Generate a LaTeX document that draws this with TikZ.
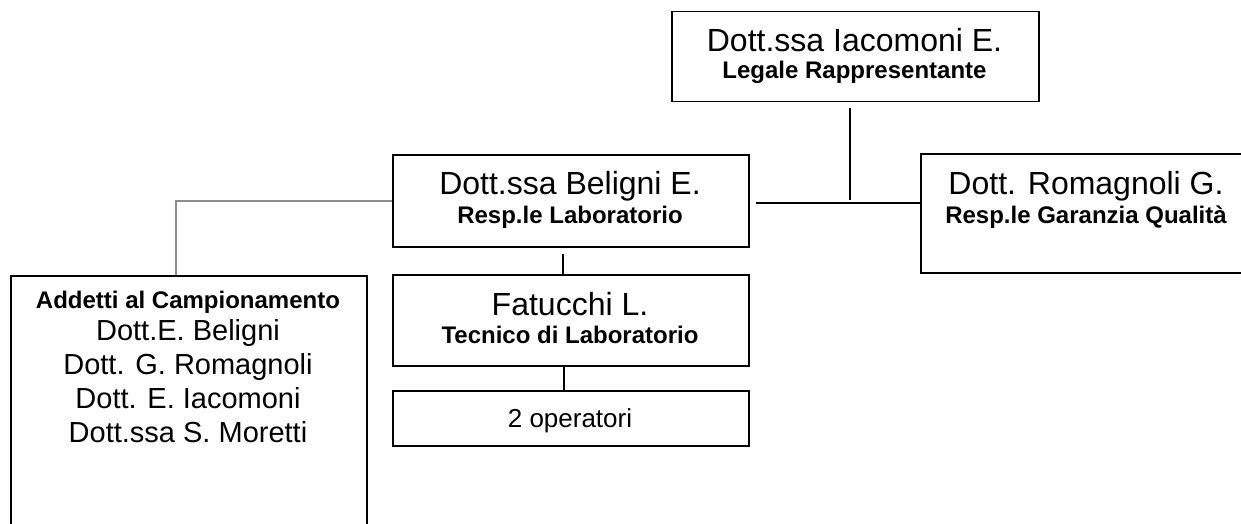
\documentclass[tikz,border=0pt]{standalone}
\usepackage{fontspec}
\setmainfont{Liberation Sans}
\begin{document}
\begin{tikzpicture}[x=1pt,y=-1pt,
  box/.style={draw=black,line width=1.5pt,inner sep=0pt,anchor=north west},
  conn/.style={line width=1.5pt,draw=black},
  grayconn/.style={line width=1.5pt,draw=black!45},
  big/.style={anchor=base,inner sep=0pt,font=\fontsize{32}{35}\selectfont},
  listtxt/.style={anchor=base,inner sep=0pt,font=\fontsize{29}{34}\selectfont},
  lbl/.style={anchor=base,inner sep=0pt,font=\fontsize{24}{28}\selectfont\bfseries}]
\useasboundingbox (0,0) rectangle (1241,524);
\clip (0,0) rectangle (1241,524);
% boxes
\node[box,minimum width=367pt,minimum height=90pt] (top) at (671,11) {};
\node[box,minimum width=356pt,minimum height=92pt] (beligni) at (392,154) {};
\node[box,minimum width=332pt,minimum height=119pt] (romagnoli) at (920,153) {};
\node[box,minimum width=356pt,minimum height=91pt] (fatucchi) at (392,274) {};
\node[box,minimum width=356pt,minimum height=55pt] (operatori) at (392,390) {};
\node[box,minimum width=356pt,minimum height=300pt] (addetti) at (10,275) {};
% texts
\node[big] (topname) at (854.5,52) {Dott.ssa Iacomoni E.};
\node[lbl] (toprole) at (854.5,79) {Legale Rappresentante};
\node[big] (belname) at (570,194) {Dott.ssa Beligni E.};
\node[lbl] (belrole) at (570,223) {Resp.le Laboratorio};
\node[big] (romname) at (1086,194) {Dott. Romagnoli G.};
\node[lbl] (romrole) at (1086,223) {Resp.le Garanzia Qualità};
\node[big] (fatname) at (570,315) {Fatucchi L.};
\node[lbl] (fatrole) at (570,343) {Tecnico di Laboratorio};
\node[anchor=base,inner sep=0pt,font=\fontsize{26}{30}\selectfont] (optext) at (570,427) {2 operatori};
\node[lbl] (addtitle) at (188,308) {Addetti al Campionamento};
\node[listtxt] (add1) at (188,340) {Dott.E. Beligni};
\node[listtxt] (add2) at (188,374) {Dott. G. Romagnoli};
\node[listtxt] (add3) at (188,408) {Dott. E. Iacomoni};
\node[listtxt] (add4) at (188,442) {Dott.ssa S. Moretti};
% connectors
\coordinate (j) at (850,203);
\draw[conn,shorten <=6pt,shorten >=3pt] (top.south -| j) -- (j);
\draw[conn,shorten <=6pt] (beligni.east |- j) -- (romagnoli.west |- j);
\draw[conn,shorten <=6pt] ([xshift=-8pt]beligni.south) -- ([xshift=-8pt]fatucchi.north);
\draw[conn] ([xshift=-7pt]fatucchi.south) -- ([xshift=-7pt]operatori.north);
\draw[grayconn] (beligni.west) -| ([xshift=-13pt]addetti.north);
\end{tikzpicture}
\end{document}
